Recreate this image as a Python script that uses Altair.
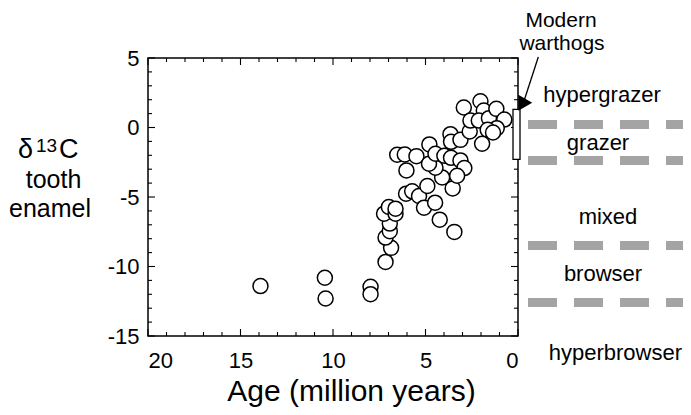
import altair as alt
import pandas as pd

# ---- data ----
AGE = [13.92, 10.44, 10.40, 7.97, 7.97, 7.16, 6.86, 7.16, 6.93, 6.93, 7.24, 6.98, 6.62, 6.62,
       6.53, 6.12, 5.49, 6.03, 6.05, 5.72, 5.35, 5.08, 4.90, 4.48, 4.23, 3.44, 3.53, 4.10, 4.46,
       4.81, 4.79, 4.46, 3.98, 3.62, 3.11, 2.90, 3.29, 3.65, 3.62, 3.11, 2.61, 2.93, 2.03, 2.57,
       1.85, 2.12, 1.57, 1.17, 0.74, 1.15, 1.64, 1.35, 1.94]
D13C = [-11.41, -10.81, -12.30, -11.46, -11.99, -9.67, -8.66, -7.92, -7.46, -6.91, -6.20, -5.72, -6.20, -5.84,
        -1.96, -1.94, -2.06, -3.09, -4.76, -4.59, -4.93, -5.77, -4.21, -5.41, -6.63, -7.51, -4.38, -3.59, -2.89,
        -2.61, -1.22, -1.89, -2.03, -2.18, -2.37, -2.92, -3.47, -0.48, -1.03, -0.89, -0.29, 1.44, 1.89, 0.50,
        1.22, 0.50, 0.67, 1.34, 0.57, -0.05, -0.17, -0.36, -1.17]

X_MAJOR = [0, 5, 10, 15, 20]
Y_MAJOR = [-15, -10, -5, 0, 5]
X_MINOR = [v for v in range(1, 20) if v % 5 != 0]
Y_MINOR = [v for v in range(-14, 5) if v % 5 != 0]

WARTHOG_TOP = [1.3]
WARTHOG_BOTTOM = [-2.3]
DIET_BOUNDS = [0.22, -2.37, -8.49, -12.59]
DIET_LABELS = ["hypergrazer", "grazer", "mixed", "browser", "hyperbrowser"]
X_TITLE = "Age (million years)"
Y_TITLE = ["\u03b4", "13", "C", "tooth", "enamel"]
NOTE = ["Modern", "warthogs"]

# ---- layout ----
W, H = 370, 278
FONT = "Liberation Sans"

xs = alt.Scale(domain=[0, 20], reverse=True, nice=False, zero=False)
ys = alt.Scale(domain=[-15, 5], nice=False, zero=False)

X_AXIS = alt.Axis(values=X_MAJOR, labelExpr="'' + datum.value", ticks=False, tickSize=0,
                  domain=False, grid=False, labelPadding=14, labelFontSize=22,
                  labelFont=FONT, labelColor="black", title=None)
Y_AXIS = alt.Axis(values=Y_MAJOR, labelExpr="'' + datum.value", ticks=False, tickSize=0,
                  domain=False, grid=False, labelPadding=9, labelFontSize=22,
                  labelFont=FONT, labelColor="black", title=None)

df = pd.DataFrame({"age": AGE, "d13c": D13C})

points = alt.Chart(df).mark_circle(
    size=225, fill="white", stroke="black", strokeWidth=1.5, opacity=1
).encode(
    x=alt.X("age:Q", scale=xs, axis=X_AXIS),
    y=alt.Y("d13c:Q", scale=ys, axis=Y_AXIS),
)


def xticks(vals, length):
    d = pd.DataFrame({"v": vals})
    bottom = alt.Chart(d).mark_rule(color="black", strokeWidth=1.1).encode(
        x=alt.X("v:Q", scale=xs, axis=X_AXIS), y=alt.value(H), y2=alt.value(H - length))
    top = alt.Chart(d).mark_rule(color="black", strokeWidth=1.1).encode(
        x=alt.X("v:Q", scale=xs, axis=X_AXIS), y=alt.value(0), y2=alt.value(length))
    return [bottom, top]


def yticks(vals, length):
    d = pd.DataFrame({"v": vals})
    left = alt.Chart(d).mark_rule(color="black", strokeWidth=1.1).encode(
        y=alt.Y("v:Q", scale=ys, axis=Y_AXIS), x=alt.value(0), x2=alt.value(length))
    right = alt.Chart(d).mark_rule(color="black", strokeWidth=1.1).encode(
        y=alt.Y("v:Q", scale=ys, axis=Y_AXIS), x=alt.value(W), x2=alt.value(W - length))
    return [left, right]


ticks = xticks(X_MAJOR, 7) + xticks(X_MINOR, 4) + yticks(Y_MAJOR, 7) + yticks(Y_MINOR, 4)

box = alt.Chart(pd.DataFrame({"top": WARTHOG_TOP, "bottom": WARTHOG_BOTTOM})).mark_rect(
    fill="white", stroke="black", strokeWidth=1.3
).encode(
    y=alt.Y("top:Q", scale=ys, axis=Y_AXIS), y2="bottom:Q",
    x=alt.value(365), x2=alt.value(372),
)

dashes = alt.Chart(pd.DataFrame({"b": DIET_BOUNDS})).mark_rule(
    color="#a4a4a4", strokeWidth=9, strokeDash=[29, 17]
).encode(
    y=alt.Y("b:Q", scale=ys, axis=Y_AXIS), x=alt.value(380), x2=alt.value(545),
)

shaft = alt.Chart(alt.Data(values=[{}])).mark_rule(color="black", strokeWidth=1.3).encode(
    x=alt.value(390.3), y=alt.value(-1), x2=alt.value(376), y2=alt.value(43))
head = alt.Chart(alt.Data(values=[{}])).mark_point(
    shape="triangle-up", filled=True, color="black", size=256, angle=210, opacity=1
).encode(x=alt.value(373.8), y=alt.value(46.7))


def label(text, x, y, size=22, align="center"):
    return alt.Chart(alt.Data(values=[{}])).mark_text(
        text=text, font=FONT, fontSize=size, color="black", align=align, baseline="alphabetic"
    ).encode(x=alt.value(x), y=alt.value(y))


texts = [
    label(NOTE[0], 413, -31, size=21),
    label(NOTE[1], 414, -8, size=21),
    label(DIET_LABELS[0], 454, 43.7),
    label(DIET_LABELS[1], 450, 92),
    label(DIET_LABELS[2], 460, 166),
    label(DIET_LABELS[3], 455, 222.7),
    label(DIET_LABELS[4], 534, 302, align="right"),
    label(X_TITLE, 203.5, 343, size=30),
    label(Y_TITLE[0], -130, 100.3, size=27, align="left"),
    label(Y_TITLE[1], -112, 93.7, size=19, align="left"),
    label(Y_TITLE[2], -89, 100.3, size=27, align="left"),
    label(Y_TITLE[3], -94.5, 130.3, size=25),
    label(Y_TITLE[4], -139, 159.3, size=25, align="left"),
]

chart = alt.layer(*ticks, dashes, box, shaft, head, *texts, points).properties(
    width=W, height=H,
    autosize=alt.AutoSizeParams(type="none"),
    padding={"left": 140, "top": 50, "right": 165, "bottom": 71},
).configure_view(stroke="black", strokeWidth=1.5)

chart.save("out.html", embed_options={"renderer": "svg", "actions": False})
